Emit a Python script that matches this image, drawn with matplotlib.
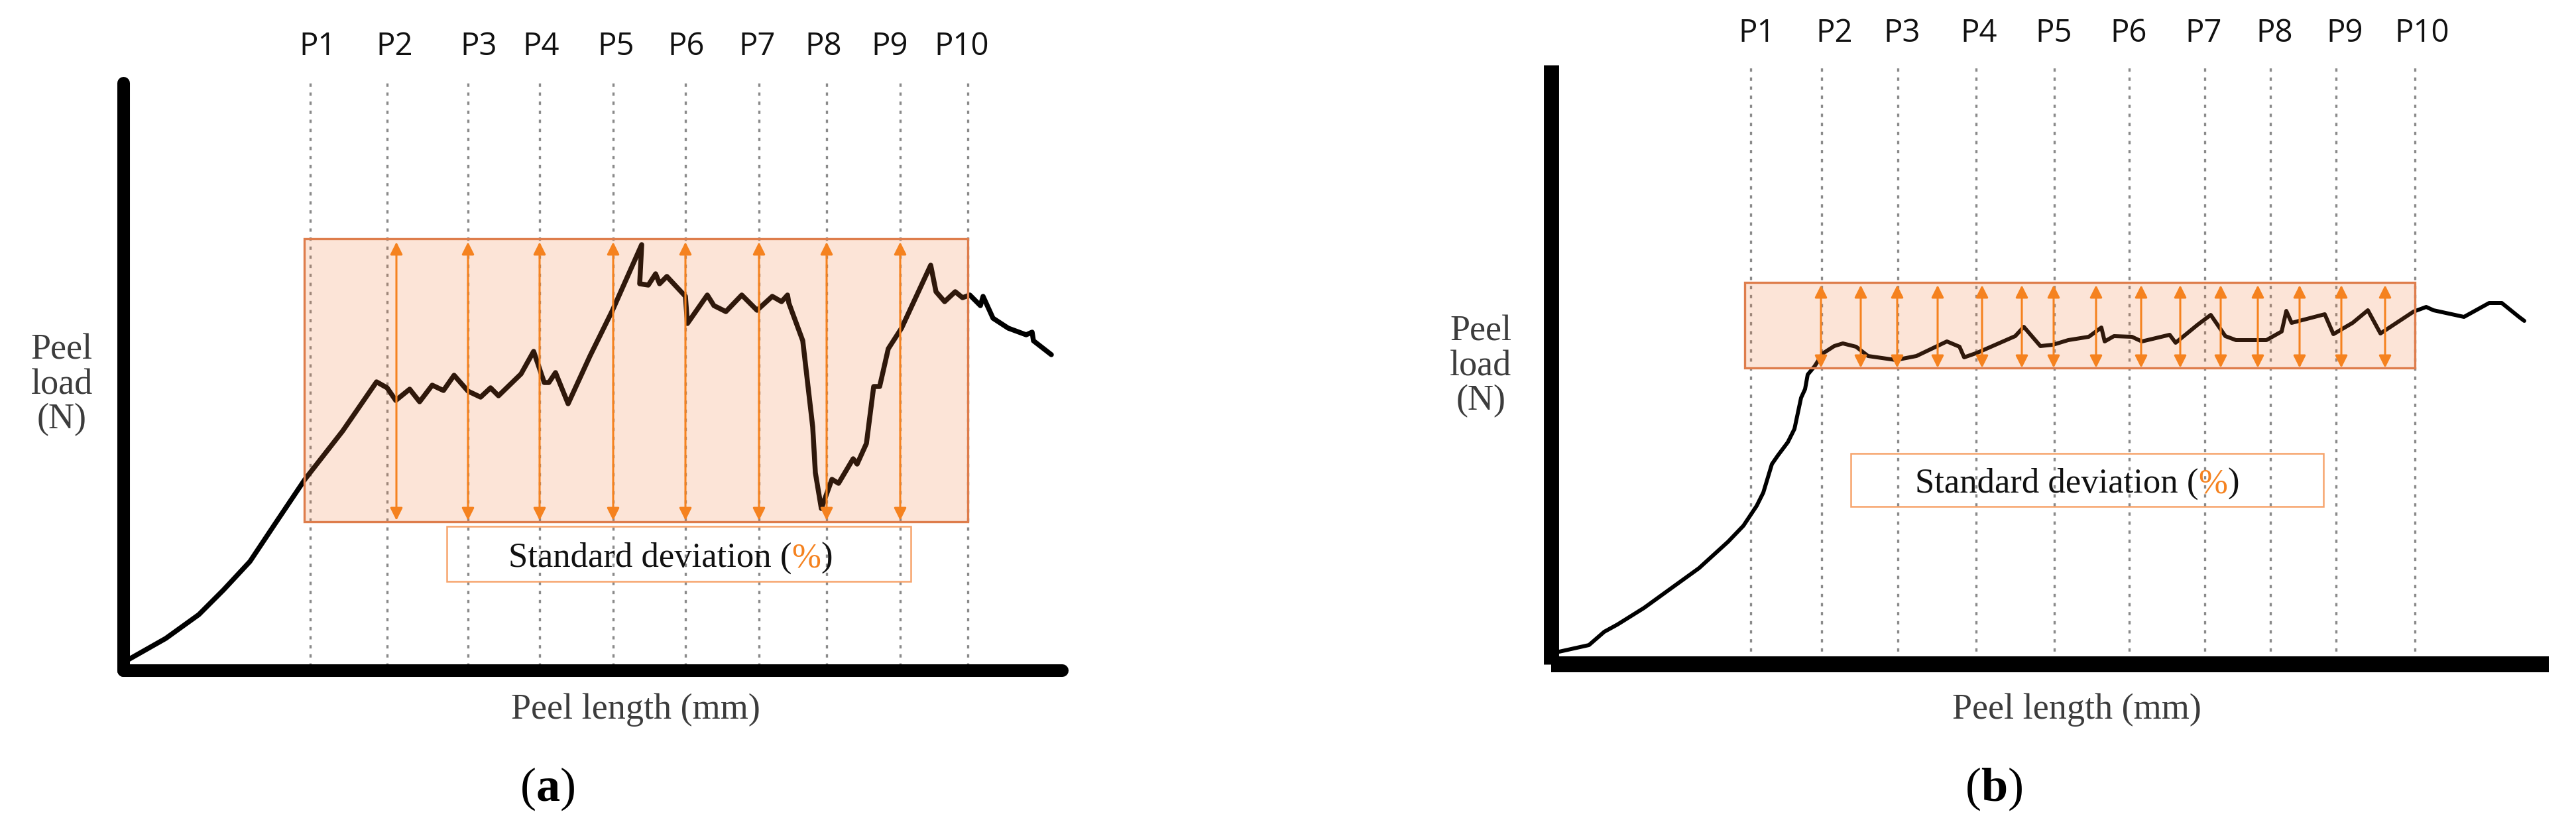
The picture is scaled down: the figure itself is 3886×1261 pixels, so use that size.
import matplotlib
matplotlib.use('Agg')
import matplotlib.pyplot as plt
from matplotlib.patches import Rectangle

plt.rcParams['mathtext.fontset'] = 'custom'
plt.rcParams['mathtext.rm'] = 'Liberation Serif'
plt.rcParams['mathtext.bf'] = 'Liberation Serif:bold'

# Dados (unidades arbitrárias: comprimento x carga)
pontos = ['P1', 'P2', 'P3', 'P4', 'P5', 'P6', 'P7', 'P8', 'P9', 'P10']

# Painel (a)
a_comp = [0.4, 6.4, 11.4, 15.1, 19.1, 22.7, 27.4, 33.1, 38.2, 39.8,
          41.1, 43.2, 44.7, 46.6, 48.3, 49.9, 52.0, 53.9, 55.4, 56.6,
          60.0, 61.9, 63.5, 64.2, 65.2, 67.1, 70.4, 73.8, 78.2, 77.9,
          79.2, 80.3, 80.9, 82.0, 84.8, 85.1, 88.1, 89.1, 90.9, 93.3,
          95.6, 97.9, 99.3, 100.2, 100.4, 102.5, 104.0, 104.4, 105.3, 106.9,
          107.9, 110.1, 110.7, 112.1, 113.2, 114.1, 115.4, 117.4, 121.8, 122.6,
          123.9, 125.5, 126.6, 127.7, 129.3, 129.7, 131.2, 133.5, 136.2, 137.1,
          137.3, 140.0]
a_carga = [1.4, 4.8, 8.4, 12.1, 16.4, 21.8, 28.8, 36.1, 43.5, 42.6,
           40.7, 42.4, 40.5, 43.0, 42.2, 44.5, 42.1, 41.2, 42.6, 41.4,
           44.7, 48.1, 43.4, 43.4, 44.9, 40.2, 47.4, 54.3, 64.2, 58.3,
           58.1, 59.8, 58.3, 59.4, 56.4, 52.3, 56.6, 55.0, 54.1, 56.6,
           54.3, 56.4, 55.6, 56.6, 55.4, 49.7, 36.7, 29.8, 24.4, 28.8,
           28.2, 31.9, 31.1, 34.2, 42.8, 42.8, 48.5, 51.6, 61.1, 57.1,
           55.6, 57.1, 56.2, 56.6, 55.0, 56.4, 53.1, 51.6, 50.6, 51.0,
           49.7, 47.6]
a_linhas_p = [28.2, 39.8, 52.0, 62.8, 73.9, 84.8, 95.9, 106.1, 117.2, 127.4]
a_rotulos_x = [29.3, 40.9, 53.6, 63.0, 74.3, 84.9, 95.6, 105.6, 115.6, 126.5]
a_setas_x = [41.2, 52.0, 62.8, 73.9, 84.8, 95.9, 106.1, 117.2]
a_faixa = (22.4, 65.1)       # carga mínima / máxima da faixa
a_setas_lim = (22.6, 64.6)

# Painel (b)
b_comp = [1.2, 5.7, 8.0, 10.0, 14.0, 18.7, 22.3, 26.7, 29.0, 31.0,
          32.0, 33.3, 34.2, 35.7, 36.7, 37.7, 38.3, 38.7, 39.7, 41.0,
          42.7, 44.0, 46.0, 47.8, 52.0, 55.1, 59.7, 61.6, 62.3, 64.3,
          70.0, 71.3, 73.8, 75.7, 78.0, 81.1, 83.0, 83.5, 84.9, 87.6,
          89.1, 93.3, 94.2, 97.5, 99.5, 101.7, 103.3, 107.9, 110.2, 110.9,
          111.7, 116.7, 118.0, 120.9, 123.2, 125.1, 130.1, 132.0, 133.1, 137.7,
          141.5, 143.4, 146.0, 146.8]
b_carga = [1.9, 2.9, 4.9, 6.0, 8.5, 11.9, 14.5, 18.5, 20.9, 23.9,
           25.9, 30.2, 31.5, 33.5, 35.5, 40.2, 41.5, 43.7, 44.9, 46.9,
           48.0, 48.4, 47.9, 46.5, 45.9, 46.5, 48.7, 47.9, 46.3, 47.0,
           49.5, 50.9, 48.0, 48.2, 48.9, 49.4, 50.8, 48.7, 49.5, 49.4,
           48.7, 49.7, 48.5, 51.2, 52.7, 49.5, 48.9, 48.9, 50.2, 53.3,
           51.5, 52.8, 49.8, 51.5, 53.4, 49.9, 53.2, 53.9, 53.4, 52.4,
           54.5, 54.5, 52.4, 51.8]
b_linhas_p = [30.1, 40.8, 52.3, 64.1, 75.9, 87.2, 98.6, 108.5, 118.4, 130.3]
b_rotulos_x = [31.0, 42.7, 52.9, 64.5, 75.8, 87.1, 98.4, 109.1, 119.7, 131.4]
b_setas_x = [40.7, 46.7, 52.2, 58.3, 65.0, 71.0, 75.8, 82.2, 89.0, 94.9,
             101.0, 106.6, 112.9, 119.2, 125.8]
b_faixa = (44.7, 57.6)
b_setas_lim = (44.7, 57.2)

LARG, ALT = 3886, 1261
SERIF = 'Liberation Serif'
SANS = 'Open Sans'
LARANJA = '#F5821F'


# Cria um eixo posicionado em pixels (origem no canto dos eixos desenhados)
def criar_eixo(fig, x0, y0, xmax, ymax, esp_esq, esp_inf, ponta):
    ax = fig.add_axes([x0 / LARG, (ALT - y0) / ALT, xmax * 10 / LARG, ymax * 10 / ALT])
    ax.set_xlim(0, xmax)
    ax.set_ylim(0, ymax)
    ax.set_facecolor('none')
    ax.set_xticks([])
    ax.set_yticks([])
    ax.spines['top'].set_visible(False)
    ax.spines['right'].set_visible(False)
    ax.spines['left'].set_linewidth(esp_esq)
    ax.spines['bottom'].set_linewidth(esp_inf)
    ax.spines['left'].set_capstyle(ponta)
    ax.spines['bottom'].set_capstyle(ponta)
    return ax


# Desenha um painel completo
def desenhar_painel(ax, comp, carga, linhas_p, rotulos_x, rotulo_y, setas_x, setas_lim,
                    faixa, caixa, texto_x, texto_y, carga_lbl, comp_lbl, letra, lw_curva):
    ymax = ax.get_ylim()[1]
    for xp in linhas_p:
        ax.plot([xp, xp], [0.6, ymax], color='#8A8A8A', lw=2.4,
                linestyle=(0, (1.5, 2.6)), zorder=1, clip_on=False)
    for xr, nome in zip(rotulos_x, pontos):
        ax.text(xr, rotulo_y, nome, ha='center', va='center', fontsize=34,
                family=SANS, color='#111111')

    ax.plot(comp, carga, color='black', lw=lw_curva, zorder=2,
            solid_joinstyle='round', solid_capstyle='round', clip_on=False)

    x0, x1 = linhas_p[0] - 0.9, linhas_p[-1]
    ax.add_patch(Rectangle((x0, faixa[0]), x1 - x0, faixa[1] - faixa[0],
                           facecolor=(0.94, 0.48, 0.22, 0.2), edgecolor='#DE7D4C',
                           lw=2.4, zorder=3))
    for xs in setas_x:
        ax.annotate('', xy=(xs, setas_lim[1]), xytext=(xs, setas_lim[0]),
                    arrowprops=dict(arrowstyle='<|-|>', color=LARANJA, lw=2.2,
                                    mutation_scale=28, shrinkA=0, shrinkB=0),
                    zorder=4)

    # Caixa "Standard deviation (%)"
    ax.add_patch(Rectangle((caixa[0], caixa[2]), caixa[1] - caixa[0], caixa[3] - caixa[2],
                           facecolor='none', edgecolor='#F7A46C', lw=1.8, zorder=3))
    t1 = ax.text(texto_x, texto_y, 'Standard deviation (', fontsize=38, family=SERIF,
                 color='#111111', va='baseline', ha='left', zorder=5)
    t2 = ax.annotate('%', xy=(1, 0), xycoords=t1, va='bottom', ha='left',
                     fontsize=38, family=SERIF, color=LARANJA, zorder=5)
    ax.annotate(')', xy=(1, 0), xycoords=t2, va='bottom', ha='left',
                fontsize=38, family=SERIF, color='#111111', zorder=5)

    ax.text(carga_lbl[0], carga_lbl[1], 'Peel\nload\n(N)', ha='center', va='center',
            fontsize=39, family=SERIF, color='#3C3C3C', linespacing=1.05)
    ax.text(comp_lbl[0], comp_lbl[1], 'Peel length (mm)', ha='center', va='center',
            fontsize=39, family=SERIF, color='#3C3C3C')
    ax.text(comp_lbl[2], comp_lbl[3], '($\\mathbf{' + letra + '}$)', ha='center',
            va='center', fontsize=52, family=SERIF, color='black')


fig = plt.figure(figsize=(LARG / 100, ALT / 100), dpi=100)

ax_a = criar_eixo(fig, 186, 1011, 141.6, 88.6, 13.7, 13.7, 'round')
desenhar_painel(ax_a, a_comp, a_carga, a_linhas_p, a_rotulos_x, 94.1, a_setas_x, a_setas_lim,
                a_faixa, (48.8, 118.8, 13.4, 21.7), 58.1, 15.6,
                (-9.3, 43.0), (77.3, -6.0, 64.0, -17.9), 'a', 5.4)

ax_b = criar_eixo(fig, 2340, 1002, 150.5, 90.4, 16.5, 17.3, 'butt')
desenhar_painel(ax_b, b_comp, b_carga, b_linhas_p, b_rotulos_x, 95.2, b_setas_x, b_setas_lim,
                b_faixa, (45.2, 116.5, 23.8, 31.8), 54.9, 25.9,
                (-10.6, 44.9), (79.3, -6.9, 66.8, -18.8), 'b', 4.3)

fig.savefig('out.png', dpi=100)
